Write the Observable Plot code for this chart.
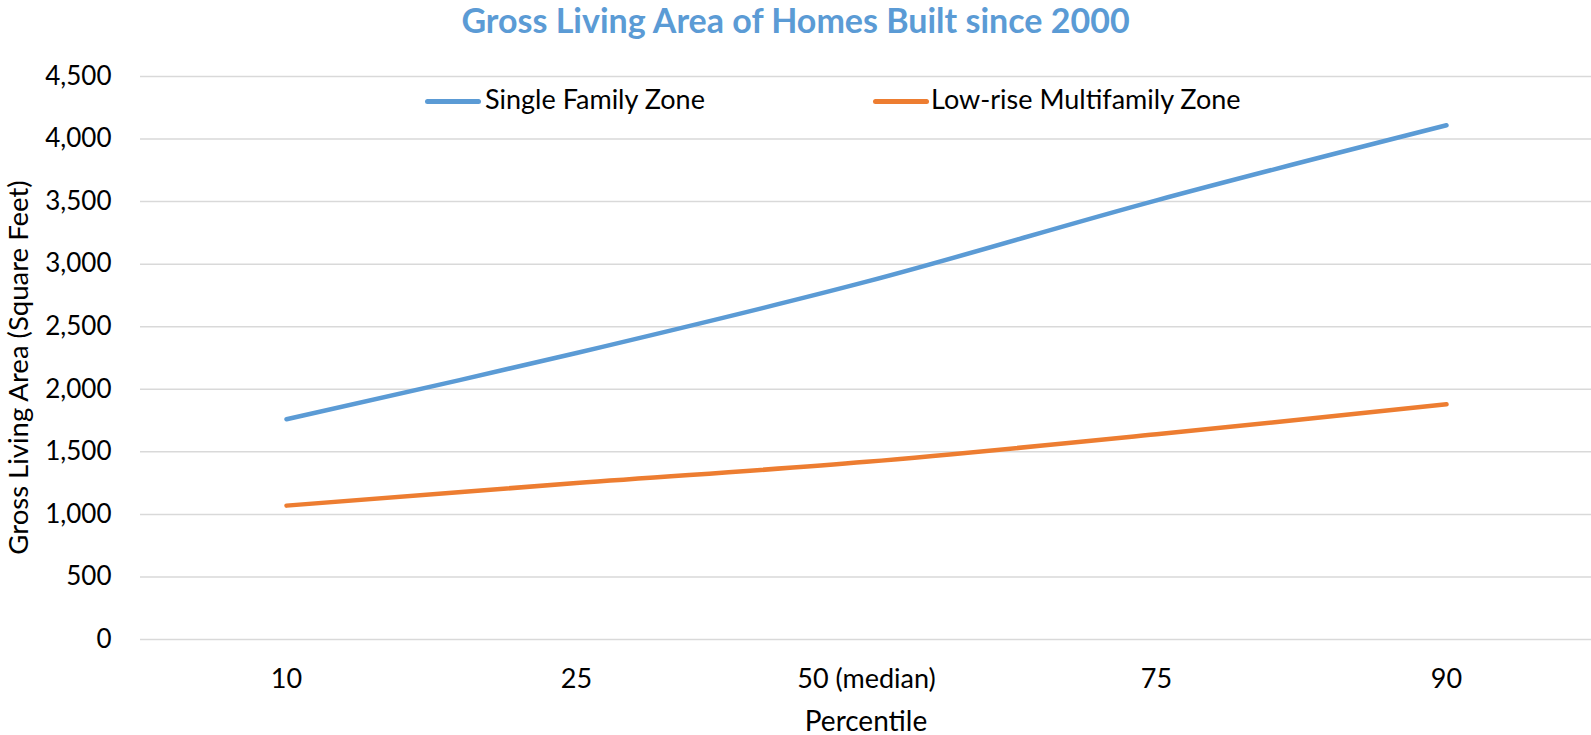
<!DOCTYPE html>
<html><head><meta charset="utf-8">
<script src="https://cdn.jsdelivr.net/npm/d3@7"></script>
<script src="https://cdn.jsdelivr.net/npm/@observablehq/plot@0.6"></script>
<style>
body{margin:0;background:#fff;font-family:Lato,"Open Sans",sans-serif;}
#wrap{position:relative;width:1591px;height:735px;overflow:hidden;}
#title{height:50px;box-sizing:border-box;padding-top:3px;line-height:1;text-align:center;font-size:34px;font-weight:bold;color:#5B9BD5;white-space:nowrap;}
.sw{position:absolute;height:5px;border-radius:3px;}
.lt{position:absolute;font-size:27px;line-height:1;color:#000;white-space:nowrap;}
svg{display:block;overflow:visible;}
</style></head><body>
<div id="wrap">
<div id="title">Gross Living Area of Homes Built since 2000</div>
<div id="chart"></div>
</div>
<script>
const percentiles = ["10", "25", "50 (median)", "75", "90"];
const singleFamily = [1760, 2290, 2860, 3510, 4110];
const lowRise = [1070, 1250, 1420, 1640, 1880];
const seriesNames = ["Single Family Zone", "Low-rise Multifamily Zone"];
const seriesColors = ["#5B9BD5", "#ED7D31"];
const yTicks = [0, 500, 1000, 1500, 2000, 2500, 3000, 3500, 4000, 4500];
const xLabel = "Percentile";
const yLabel = "Gross Living Area (Square Feet)";

const seriesValues = [singleFamily, lowRise];
const data = [];
seriesNames.forEach((s, i) => percentiles.forEach((p, j) => data.push({series: s, p, v: seriesValues[i][j]})));

const chart = Plot.plot({
  width: 1591,
  height: 685,
  marginLeft: 140,
  marginRight: 0,
  marginTop: 26,
  marginBottom: 96,
  style: {fontFamily: "Lato, 'Open Sans', sans-serif", fontSize: "26px", color: "#000", background: "#fff"},
  x: {type: "point", domain: percentiles, padding: 0.5},
  y: {domain: [0, 4500]},
  color: {domain: seriesNames, range: seriesColors},
  marks: [
    Plot.ruleY(yTicks, {stroke: "#d9d9d9", strokeWidth: 1.5}),
    Plot.axisX({tickSize: 0, tickPadding: 29, label: null, fontSize: 27}),
    Plot.axisY({ticks: yTicks, tickFormat: d3.format(","), tickSize: 0, tickPadding: 29, label: null, fontSize: 26}),
    Plot.line(data, {x: "p", y: "v", z: "series", stroke: "series", curve: "catmull-rom", strokeWidth: 4.5, strokeLinecap: "round", strokeLinejoin: "round"}),
    Plot.text([xLabel], {text: d => d, frameAnchor: "bottom", lineAnchor: "bottom", dy: 91, fontSize: 28, fill: "#000"}),
    Plot.text([yLabel], {text: d => d, frameAnchor: "left", textAnchor: "middle", rotate: -90, dx: -121, dy: 9.5, fontSize: 27.5, fill: "#000"})
  ]
});
const wrap = document.getElementById("wrap");
document.getElementById("chart").appendChild(chart);

// legend (inside plot area, as in the reference)
const legendPos = [{sx: 425, tx: 485}, {sx: 873, tx: 931}];
seriesNames.forEach((name, i) => {
  const sw = document.createElement("div");
  sw.className = "sw";
  sw.style.left = legendPos[i].sx + "px";
  sw.style.top = "99px";
  sw.style.width = "56px";
  sw.style.background = seriesColors[i];
  wrap.appendChild(sw);
  const t = document.createElement("div");
  t.className = "lt";
  t.textContent = name;
  t.style.left = legendPos[i].tx + "px";
  t.style.top = "85px";
  wrap.appendChild(t);
});
</script>
</body></html>
